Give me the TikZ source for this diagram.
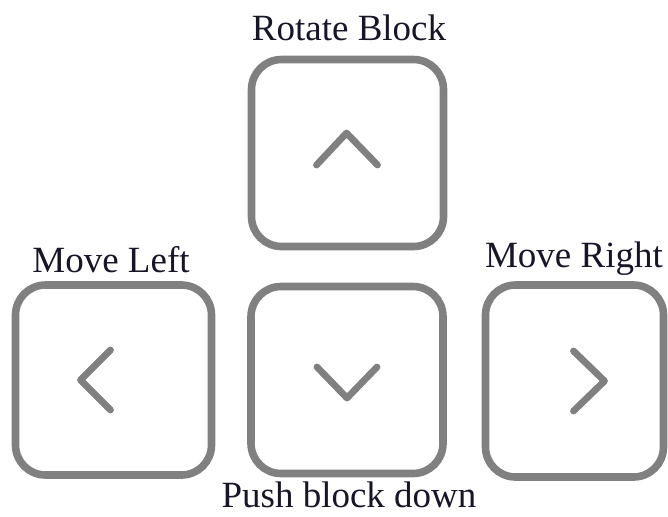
\documentclass[tikz,border=0pt]{standalone}
\usepackage{fontspec}
\setmainfont{Liberation Serif}
\usetikzlibrary{calc}

\definecolor{keygray}{RGB}{128,128,128}
\definecolor{labelink}{RGB}{22,22,40}

\tikzset{
    keybox/.style={draw=keygray, line width=3.8pt, rounded corners=15pt,
        minimum width=96pt, minimum height=93.5pt, inner sep=0pt},
    chevron/.style={draw=keygray, line width=3.4pt, line cap=round, line join=round},
    keylabel/.style={anchor=base, text=labelink, inner sep=0pt,
        font=\fontsize{18.5}{20}\selectfont}
}

\begin{document}
\begin{tikzpicture}[x=0.5pt, y=-0.5pt]
    \useasboundingbox (0,0) rectangle (668,516);
    % keys
    \node[keybox] (rotate) at (347.5,153) {};
    \node[keybox] (down) at (347,380) {};
    \node[keybox, minimum width=98pt, minimum height=95pt] (left) at (113.5,380) {};
    \node[keybox, minimum width=89pt, minimum height=96pt] (right) at (574.5,381) {};

    % labels
    \node[keylabel] (rotatetext) at (349,40) {Rotate Block};
    \node[keylabel] (lefttext) at (111,272) {Move Left};
    \node[keylabel] (righttext) at (574,267) {Move Right};
    \node[keylabel] (downtext) at (349,507) {Push block down};

    % arrows on the keys
    \draw[chevron] ($(rotate) + (-31,12)$) -- ($(rotate) + (-1,-20)$) -- ($(rotate) + (30,12)$);
    \draw[chevron] ($(down) + (-30,-13)$) -- ($(down) + (0,18)$) -- ($(down) + (30,-13)$);
    \draw[chevron] ($(left) + (-3,-30)$) -- ($(left) + (-33,0)$) -- ($(left) + (-3,30)$);
    \draw[chevron] ($(right) + (-1,-30)$) -- ($(right) + (30,0)$) -- ($(right) + (-1,30)$);
\end{tikzpicture}
\end{document}
